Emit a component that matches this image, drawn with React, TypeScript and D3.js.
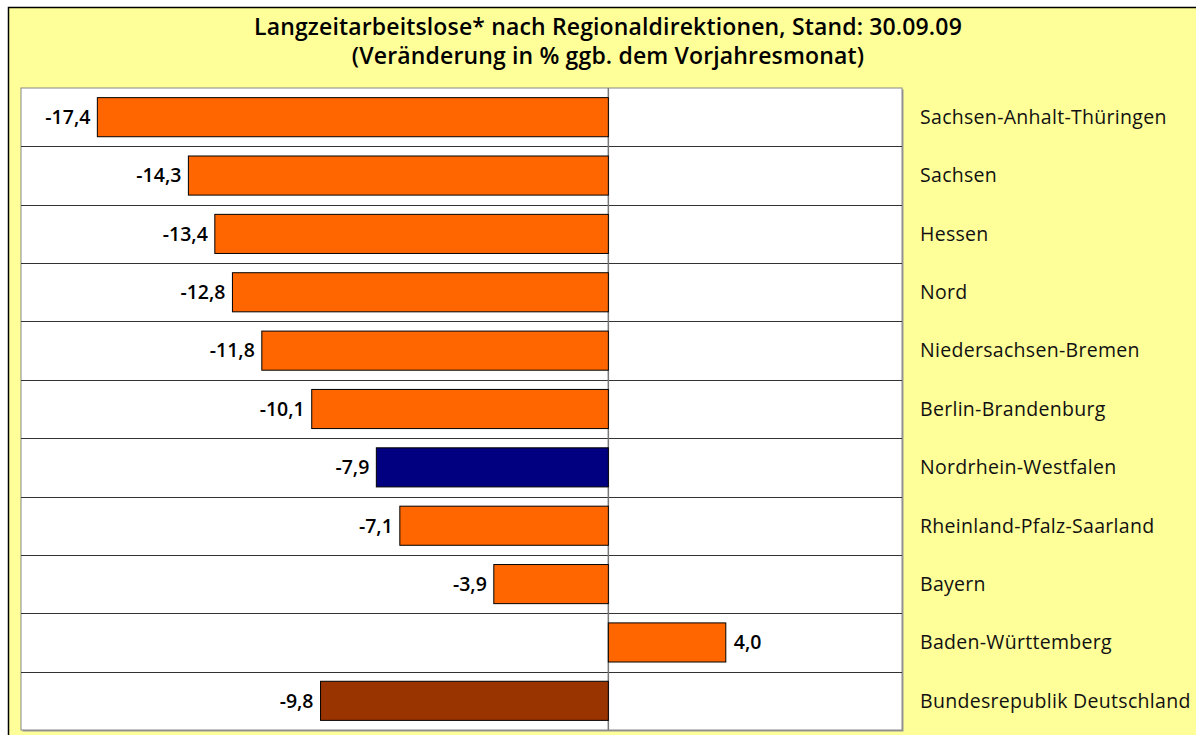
import React from "react";
import * as d3 from "d3";

const categories = [
  "Sachsen-Anhalt-Thüringen",
  "Sachsen",
  "Hessen",
  "Nord",
  "Niedersachsen-Bremen",
  "Berlin-Brandenburg",
  "Nordrhein-Westfalen",
  "Rheinland-Pfalz-Saarland",
  "Bayern",
  "Baden-Württemberg",
  "Bundesrepublik Deutschland",
];
const values = [-17.4, -14.3, -13.4, -12.8, -11.8, -10.1, -7.9, -7.1, -3.9, 4.0, -9.8];
const barColors = [
  "#FF6600", "#FF6600", "#FF6600", "#FF6600", "#FF6600", "#FF6600",
  "#000080", "#FF6600", "#FF6600", "#FF6600", "#993300",
];
const titleLines = [
  "Langzeitarbeitslose* nach Regionaldirektionen, Stand: 30.09.09",
  "(Veränderung in % ggb. dem Vorjahresmonat)",
];
const domain = [-20, 10];

const W = 1196;
const H = 735;
const plot = { left: 21, top: 88, right: 902, bottom: 730 };
const FONT = "'Open Sans', 'Noto Sans', sans-serif";

export default function App() {
  const x = d3.scaleLinear().domain(domain).range([plot.left, plot.right]);
  const y = d3
    .scaleBand<string>()
    .domain(categories)
    .range([plot.top, plot.bottom])
    .paddingInner(0.33)
    .paddingOuter(0.165);
  const rows = d3
    .scaleBand<string>()
    .domain(categories)
    .range([plot.top, plot.bottom]);
  const x0 = x(0);
  const fmt = (v: number) => v.toFixed(1).replace(".", ",");

  return (
    <svg
      width={W}
      height={H}
      style={{ position: "absolute", left: 0, top: 0, fontFamily: FONT }}
    >
      <rect x={0} y={0} width={W} height={H} fill="#ffffff" />
      <rect x={8.5} y={7.5} width={W + 10} height={H + 10} fill="#FFFF99" stroke="#000" strokeWidth={1.5} />
      {titleLines.map((t, i) => (
        <text
          key={i}
          x={608}
          y={35 + i * 29}
          textAnchor="middle"
          fontSize={23}
          fontWeight={600}
          letterSpacing={0.15}
          fill="#000"
        >
          {t}
        </text>
      ))}
      <rect
        x={plot.left + 1.5}
        y={plot.top + 1.5}
        width={plot.right - plot.left}
        height={plot.bottom - plot.top}
        fill="#999"
      />
      <rect
        x={plot.left}
        y={plot.top}
        width={plot.right - plot.left}
        height={plot.bottom - plot.top}
        fill="#fff"
        stroke="#888"
        strokeWidth={1}
      />
      {categories.slice(1).map((c) => (
        <line
          key={c}
          x1={plot.left}
          x2={plot.right}
          y1={Math.round(rows(c)!) + 0.5}
          y2={Math.round(rows(c)!) + 0.5}
          stroke="#333"
          strokeWidth={1}
        />
      ))}
      <line x1={x0} x2={x0} y1={plot.top} y2={plot.bottom} stroke="#777" strokeWidth={1.5} />
      {categories.map((c, i) => {
        const v = values[i];
        const bx = Math.min(x(v), x0);
        const bw = Math.abs(x(v) - x0);
        const by = y(c)!;
        const bh = y.bandwidth();
        const cy = by + bh / 2;
        return (
          <g key={c}>
            <rect x={bx} y={by} width={bw} height={bh} fill={barColors[i]} stroke="#000" strokeWidth={1} />
            <text
              x={v < 0 ? x(v) - 7 : x(v) + 8}
              y={cy}
              dy="0.35em"
              textAnchor={v < 0 ? "end" : "start"}
              fontSize={19.5}
              fontWeight={600}
              fill="#000"
            >
              {fmt(v)}
            </text>
            <text x={920} y={rows(c)! + rows.bandwidth() / 2} dy="0.35em" fontSize={19.5} letterSpacing={0.3} fill="#111">
              {c}
            </text>
          </g>
        );
      })}
    </svg>
  );
}
